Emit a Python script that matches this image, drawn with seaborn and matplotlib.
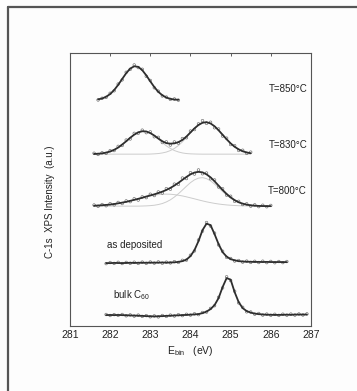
import numpy as np
import pandas as pd
import matplotlib
matplotlib.use("Agg")
import matplotlib.pyplot as plt
from matplotlib.lines import Line2D
import seaborn as sns

# ---------------- data ----------------
# energy grids: (start, stop) in eV, 0.1 eV sampling
e850 = np.round(np.arange(281.7, 283.75, 0.1), 2)
e830 = np.round(np.arange(281.6, 285.55, 0.1), 2)
e800 = np.round(np.arange(281.6, 286.05, 0.1), 2)
edep = np.round(np.arange(281.9, 286.45, 0.1), 2)
ebulk = np.round(np.arange(281.9, 286.95, 0.1), 2)

# vertical offsets of each spectrum (a.u.)
base850, base830, base800, basedep, basebulk = 226, 172, 120, 63, 11

# fitted curves (a.u., relative to each baseline)
fit850 = [0.8, 1.7, 3.4, 6.1, 10.1, 15.3, 21.2, 27.0, 31.6, 33.9, 33.3, 30.0,
          24.8, 18.8, 13.1, 8.3, 4.9, 2.6, 1.3, 0.6, 0.4]
fit830 = [0.2, 0.4, 0.8, 1.5, 2.7, 4.3, 6.6, 9.6, 12.9, 16.4, 19.5, 21.8, 22.9,
          22.7, 21.1, 18.6, 15.6, 12.9, 11.0, 10.5, 10.8, 12.0, 14.2, 17.6, 21.7,
          25.8, 29.2, 31.4, 32.0, 30.7, 27.9, 23.9, 19.4, 14.9, 10.8, 7.4, 4.8,
          2.9, 1.7, 0.9]
compA830 = [0.2, 0.4, 0.8, 1.5, 2.7, 4.3, 6.6, 9.6, 12.9, 16.4, 19.5, 21.8, 22.9,
            22.7, 21.0, 18.3, 15.0, 11.5, 8.3, 5.7, 3.6, 2.2, 1.2, 0.6, 0.3, 0.15,
            0.05, 0, 0, 0, 0, 0, 0, 0, 0, 0, 0, 0, 0, 0]
compB830 = [0, 0, 0, 0, 0, 0, 0, 0, 0, 0, 0, 0, 0, 0, 0.1, 0.3, 0.6, 1.2, 2.1,
            3.6, 5.7, 8.6, 12.3, 16.7, 21.3, 25.6, 29.2, 31.4, 32.0, 30.7, 27.9,
            23.9, 19.4, 14.9, 10.8, 7.4, 4.8, 2.9, 1.7, 0.9]
fit800 = [0.4, 0.6, 0.9, 1.2, 1.6, 2.1, 2.8, 3.5, 4.3, 5.3, 6.3, 7.3, 8.4, 9.6,
          10.7, 11.8, 13.1, 14.5, 16.2, 18.2, 20.6, 23.3, 26.3, 29.2, 31.8, 33.6,
          34.3, 33.8, 31.8, 28.8, 24.9, 20.5, 16.2, 12.2, 8.8, 6.0, 3.9, 2.5, 1.5,
          0.8, 0.5, 0.2, 0.1, 0.0, 0.0]
comp1_800 = [0.44, 0.63, 0.88, 1.2, 1.62, 2.14, 2.76, 3.49, 4.32, 5.25, 6.25, 7.28,
             8.31, 9.3, 10.2, 10.9, 11.5, 11.9, 12.0, 11.9, 11.5, 10.9, 10.2, 9.3,
             8.3, 7.3, 6.25, 5.25, 4.3, 3.5, 2.76, 2.14, 1.62, 1.2, 0.88, 0.63,
             0.44, 0.3, 0.2, 0.13, 0.08, 0.05, 0.03, 0.02, 0.01]
comp2_800 = [0, 0, 0, 0, 0, 0, 0, 0, 0, 0, 0, 0, 0.12, 0.25, 0.5, 0.9, 1.6, 2.6,
             4.2, 6.3, 9.1, 12.4, 16.1, 19.9, 23.5, 26.3, 28.0, 28.5, 27.5, 25.3,
             22.1, 18.4, 14.6, 11.0, 7.9, 5.4, 3.5, 2.2, 1.3, 0.7, 0.4, 0.2, 0.1,
             0, 0]
fitdep = [0, 0, 0.2, 0.1, 0, 0.2, 0.3, 0.2, 0.3, 0.4, 0.3, 0.5, 0.4, 0.5, 0.6, 0.5,
          0.6, 0.8, 1.2, 2.0, 3.5, 7.0, 13.0, 22.0, 33.0, 39.5, 38.0, 29.0, 19.0,
          11.0, 6.5, 4.0, 2.8, 2.0, 1.6, 1.4, 1.3, 1.2, 1.2, 1.1, 1.2, 1.1, 1.0,
          1.1, 1.0, 1.0]
fitbulk = [0, 0.1, 0, 0.1, 0, -0.2, -0.3, -0.5, -0.6, -0.8, -1.0, -1.2, -1.3, -1.2,
           -1.0, -0.8, -0.6, -0.4, -0.2, 0, 0.2, 0.4, 0.7, 1.0, 2.0, 3.5, 6.0, 10.0,
           17.0, 28.0, 37.0, 35.5, 23.0, 13.0, 7.0, 4.0, 2.5, 1.5, 1.0, 0.6, 0.4,
           0.3, 0.2, 0.2, 0.3, 0.4, 0.3, 0.5, 0.6, 0.5, 0.6]

# measured points (a.u., relative to each baseline)
pts850 = [0.2, 1.9, 2.8, 6.9, 9.4, 16.1, 20.3, 27.9, 30.8, 35.2, 32.6, 30.9, 23.9,
          19.7, 12.4, 9.0, 4.2, 3.1, 0.8, 1.2, 0.0]
pts830 = [0.9, -0.3, 1.4, 0.8, 3.5, 3.6, 7.8, 8.7, 14.1, 15.2, 20.8, 20.9, 24.0,
          21.5, 22.3, 17.4, 16.8, 11.6, 12.3, 9.1, 12.2, 11.0, 15.6, 16.4, 23.1,
          24.6, 30.3, 33.5, 30.8, 31.9, 26.4, 25.2, 18.1, 16.0, 9.6, 8.5, 3.7, 3.9,
          0.8, 2.0]
pts800 = [1.1, -0.2, 1.6, 0.4, 2.5, 1.3, 3.7, 2.6, 5.2, 4.5, 7.4, 6.1, 9.3, 8.5,
          11.9, 10.6, 14.2, 13.1, 17.5, 16.9, 22.0, 21.8, 28.1, 27.6, 33.5, 32.1,
          36.2, 32.4, 33.1, 27.4, 26.2, 19.1, 17.4, 11.0, 9.9, 4.8, 4.8, 1.6, 2.3,
          0.0, 1.3, -0.5, 0.9, -0.6, 0.7]
ptsdep = [-0.5, 0.6, -0.3, 0.8, -0.4, 0.7, -0.2, 0.9, -0.3, 1.0, -0.2, 1.1, 0.0,
          1.2, -0.1, 1.0, 0.2, 1.5, 0.7, 2.8, 3.0, 7.9, 12.2, 23.1, 32.0, 40.6,
          37.1, 30.0, 18.2, 11.9, 5.8, 4.6, 2.1, 2.6, 1.0, 2.0, 0.7, 1.8, 0.6, 1.9,
          0.5, 1.7, 0.4, 1.6, 0.5, 1.6]
ptsbulk = [0.6, -0.4, 0.5, -0.3, 0.6, -0.7, 0.2, -1.0, 0.0, -1.3, -0.5, -1.7, -0.8,
           -1.8, -0.4, -1.3, 0.0, -0.9, 0.4, -0.5, 0.8, 0.0, 1.3, 0.5, 2.6, 3.0,
           6.7, 9.4, 17.8, 27.2, 38.3, 34.6, 23.9, 12.2, 7.8, 3.3, 3.1, 0.9, 1.6,
           0.0, 1.0, -0.2, 0.8, -0.3, 0.9, -0.1, 1.0, 0.0, 1.1, 0.1, 1.2]

labels = ["T=850°C", "T=830°C", "T=800°C", "as deposited", "bulk C$_{60}$"]
xticks = [281, 282, 283, 284, 285, 286, 287]

# ---------------- figure ----------------
sns.set_style("white")
plt.rcParams["font.family"] = ["Liberation Sans", "DejaVu Sans"]
plt.rcParams["mathtext.fontset"] = "custom"
plt.rcParams["mathtext.rm"] = "Liberation Sans"

fig = plt.figure(figsize=(3.57, 3.91), dpi=100)
fig.patch.set_facecolor("#fdfdfd")
ax = fig.add_axes([0.196, 0.166, 0.675, 0.698])
ax.set_facecolor("#fdfdfd")

line_c = "#2e2e2e"
comp_c = "#cccccc"
pt_c = "#6a6a6a"

def draw(e, base, fit, pts, comps=()):
    for c in comps:
        d = pd.DataFrame({"E": e, "I": np.asarray(c) + base})
        sns.lineplot(data=d, x="E", y="I", ax=ax, color=comp_c, lw=0.7,
                     estimator=None, sort=False, zorder=1)
    dp = pd.DataFrame({"E": e, "I": np.asarray(pts) + base})
    sns.scatterplot(data=dp, x="E", y="I", ax=ax, marker="o", s=3.5,
                    facecolor="none", edgecolor=pt_c, linewidth=0.45, zorder=2)
    d = pd.DataFrame({"E": e, "I": np.asarray(fit) + base})
    sns.lineplot(data=d, x="E", y="I", ax=ax, color=line_c, lw=1.3,
                 estimator=None, sort=False, zorder=3)

draw(e850, base850, fit850, pts850)
draw(e830, base830, fit830, pts830, (compA830, compB830))
draw(e800, base800, fit800, pts800, (comp1_800, comp2_800))
draw(edep, basedep, fitdep, ptsdep)
draw(ebulk, basebulk, fitbulk, ptsbulk)

ax.set_xlim(281, 287)
ax.set_ylim(0, 273)
ax.set_xticks(xticks)
ax.set_xticklabels([str(t) for t in xticks], fontsize=7.5, color="#222")
ax.set_yticks([])
ax.tick_params(axis="x", direction="in", length=2.5, width=0.6, color="#444",
               pad=3, top=True)

for s in ax.spines.values():
    s.set_color("#555")
    s.set_linewidth(0.8)
    s.set_visible(True)

ax.set_xlabel(r"E$_{\rm bin}$   (eV)", fontsize=7.5, color="#222", labelpad=3)
ax.set_ylabel("C-1s  XPS Intensity  (a.u.)", fontsize=7, color="#222")
ax.yaxis.set_label_coords(-0.062, 0.454)

tk = dict(fontsize=7, color="#222", va="center")
ax.text(285.95, 237, labels[0], ha="left", **tk)
ax.text(285.95, 181, labels[1], ha="left", **tk)
ax.text(285.92, 135, labels[2], ha="left", **tk)
ax.text(281.92, 81, labels[3], ha="left", **tk)
ax.text(282.08, 31, labels[4], ha="left", **tk)

# outer frame of the figure panel
fig.add_artist(Line2D([8 / 357, 1], [1 - 7 / 391, 1 - 7 / 391],
                      transform=fig.transFigure, color="#555", lw=1.6))
fig.add_artist(Line2D([8 / 357, 8 / 357], [0, 1 - 7 / 391],
                      transform=fig.transFigure, color="#555", lw=1.6))

fig.savefig("out.png", dpi=100, facecolor=fig.get_facecolor())
